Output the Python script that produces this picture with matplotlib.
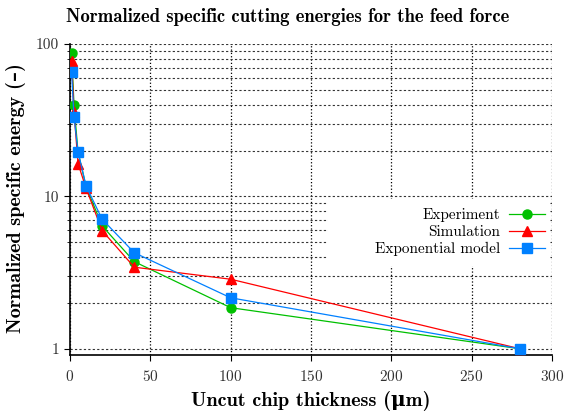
import matplotlib
matplotlib.use("Agg")
import matplotlib.pyplot as plt
from matplotlib.ticker import FixedLocator, FixedFormatter, LogLocator, NullFormatter
from matplotlib.patches import Rectangle

plt.rcParams['axes.formatter.use_mathtext'] = True
plt.rcParams['mathtext.fontset'] = 'cm'

RM = ['cmr10', 'DejaVu Serif']
BF = ['cmb10', 'DejaVu Serif']

x_vals = [1, 2.5, 5, 10, 20, 40, 100, 280]
experiment = [87.3, 39.7, 19.5, 11.6, 6.4, 3.73, 1.86, 1.0]
simulation = [76.9, 36.0, 16.4, 11.3, 5.96, 3.43, 2.86, 1.0]
exp_model = [65.1, 33.0, 19.7, 11.7, 7.08, 4.27, 2.16, 1.0]

series_labels = ['Experiment', 'Simulation', 'Exponential model']
x_ticks = [0, 50, 100, 150, 200, 250, 300]
y_ticks = [1, 10, 100]
y_tick_labels = ['1', '10', '100']

title = 'Normalized specific cutting energies for the feed force'
xlabel = 'Uncut chip thickness (\u03bcm)'
ylabel = 'Normalized specific energy (\u2013)'

fig = plt.figure(figsize=(5.67, 4.13), dpi=100)
ax = fig.add_axes([70/567, 1-355/413, 482/567, 311/413])

ax.plot(x_vals, experiment, color='#00c000', lw=0.9, marker='o', ms=6.5,
        label=series_labels[0], zorder=3)
ax.plot(x_vals, simulation, color='#ff0000', lw=0.9, marker='^', ms=6.5,
        label=series_labels[1], zorder=4)
ax.plot(x_vals, exp_model, color='#0080ff', lw=0.9, marker='s', ms=7,
        label=series_labels[2], zorder=5)

ax.set_yscale('log')
ax.set_xlim(0, 300)
ax.set_ylim(0.91, 100)
ax.xaxis.set_major_locator(FixedLocator(x_ticks))
ax.yaxis.set_major_locator(FixedLocator(y_ticks))
ax.yaxis.set_major_formatter(FixedFormatter(y_tick_labels))
ax.yaxis.set_minor_locator(LogLocator(base=10, subs=range(2, 10)))
ax.yaxis.set_minor_formatter(NullFormatter())

ax.grid(True, which='major', axis='x', ls=':', color='black', lw=0.9)
ax.grid(True, which='both', axis='y', ls=(0, (2, 2)), color='#333333', lw=0.8)
ax.set_axisbelow(True)

# white background area behind the legend (covers the grid there)
ax.add_patch(Rectangle((0.535, 0.286), 0.459, 0.216, transform=ax.transAxes,
                       facecolor='white', edgecolor='none', zorder=1.5))

for s in ['top', 'right']:
    ax.spines[s].set_visible(False)
for s in ['left', 'bottom']:
    ax.spines[s].set_linewidth(1.2)

ax.tick_params(axis='both', which='major', direction='out', length=4, width=0.8,
               labelsize=11, pad=6)
ax.tick_params(axis='y', which='major', pad=4)
ax.tick_params(axis='y', which='minor', direction='out', length=2.5, width=0.6)
for lab in ax.get_xticklabels() + ax.get_yticklabels():
    lab.set_family(RM)
    lab.set_color('#333333')

leg = ax.legend(loc='center right', bbox_to_anchor=(0.535, 0.286, 0.459, 0.216),
                frameon=False, markerfirst=False,
                prop={'family': RM, 'size': 11}, handlelength=2.3,
                borderpad=0.3, labelspacing=0.2, handletextpad=0.6,
                borderaxespad=0)
for t in leg.get_texts():
    t.set_ha('right')
leg._legend_box.align = 'right'

fig.text(287.5/567, 1-17/413, title, ha='center', va='center',
         family=BF, fontsize=13.4, weight='bold')
fig.text(310.5/567, 1-401/413, xlabel, ha='center', va='center',
         family=BF, fontsize=14.5, weight='bold')
fig.text(16/567, 1-198/413, ylabel, ha='center', va='center', rotation=90,
         family=BF, fontsize=14.5, weight='bold')

fig.savefig('out.png', dpi=100)
